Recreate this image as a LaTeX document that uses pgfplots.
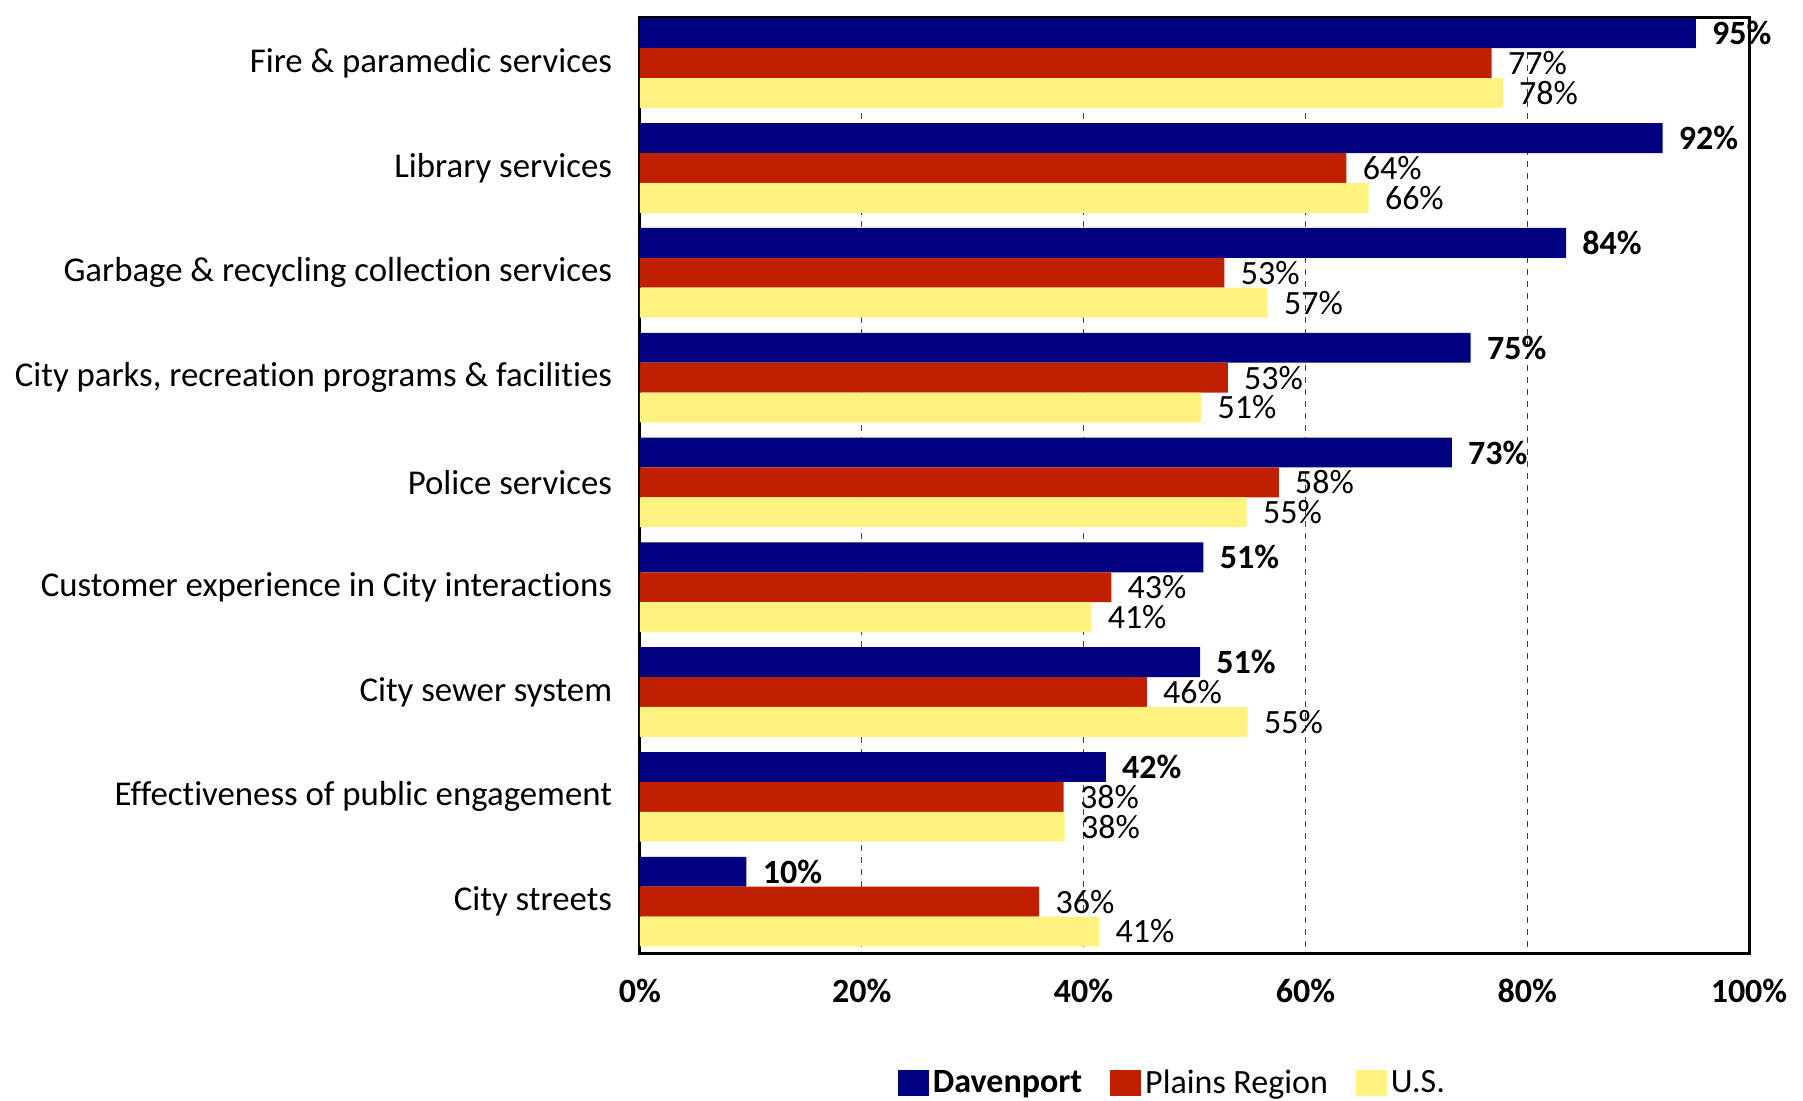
\documentclass[border=0pt]{standalone}
\usepackage{fontspec}
\setmainfont{Carlito}[Ligatures={NoCommon}]
\usepackage{pgfplots}
\pgfplotsset{compat=1.18}
\usepackage{pgfplotstable}
\definecolor{dav}{RGB}{0,0,128}
\definecolor{pla}{RGB}{192,32,0}
\definecolor{usy}{RGB}{255,242,128}
\pgfplotstableread{
y d dl p pl u ul
0 95.2 95 76.8 77 77.8 78
1 92.2 92 63.7 64 65.7 66
2 83.5 84 52.7 53 56.6 57
3 74.9 75 53.0 53 50.6 51
4 73.2 73 57.6 58 54.7 55
5 50.8 51 42.5 43 40.7 41
6 50.5 51 45.7 46 54.8 55
7 42.0 42 38.2 38 38.3 38
8 9.6 10 36.0 36 41.4 41
}\data
\begin{document}
\begin{tikzpicture}[font=\fontsize{17}{20}\selectfont]
\begin{axis}[
  width=554.5pt, height=468pt, scale only axis,
  xbar,
  xmin=0, xmax=100, ymin=-0.44, ymax=8.49, y dir=reverse,
  clip=false,
  axis line style={line width=1.5pt},
  major tick length=0pt,
  xtick={0,20,40,60,80,100},
  xticklabels={\textbf{0\%},\textbf{20\%},\textbf{40\%},\textbf{60\%},\textbf{80\%},\textbf{100\%}},
  xticklabel style={anchor=center, inner sep=0pt, yshift=-19pt},
  ytick={0,...,8},
  yticklabels={Fire \& paramedic services, Library services, Garbage \& recycling collection services, {City parks, recreation programs \& facilities}, Police services, Customer experience in City interactions, City sewer system, Effectiveness of public engagement, City streets},
  yticklabel style={anchor=east, inner sep=0pt, xshift=-13.8pt, font=\fontsize{17.4}{20}\selectfont},
  xmajorgrids, major grid style={dashed, black!75, line width=0.5pt},
  bar width=0.285,
  nodes near coords={\pgfplotspointmeta\%},
  point meta=explicit symbolic,
  nodes near coords style={anchor=west, inner sep=0pt, xshift=8pt},
  legend columns=3,
  legend style={draw=none, fill=none, at={(axis description cs:0.481,0)}, anchor=center, yshift=-65pt,
    /tikz/every even column/.append style={column sep=12pt}},
  legend image code/.code={\fill[#1] (0pt,-6.3pt) rectangle (15.5pt,6.3pt);},
]
\addplot[fill=dav, draw=none, bar shift=-0.285, nodes near coords style={font=\fontsize{17}{20}\selectfont\bfseries}] table[x=d, y=y, meta=dl]{\data};
\addplot[fill=pla, draw=none, bar shift=0] table[x=p, y=y, meta=pl]{\data};
\addplot[fill=usy, draw=none, bar shift=0.285] table[x=u, y=y, meta=ul]{\data};
\legend{\textbf{Davenport}, Plains Region, U.S.}
\end{axis}
\pgfresetboundingbox
\path[use as bounding box] ([shift={(-320pt,-73.5pt)}]current axis.south west) rectangle ++(901.5pt,550pt);
\end{tikzpicture}
\end{document}
